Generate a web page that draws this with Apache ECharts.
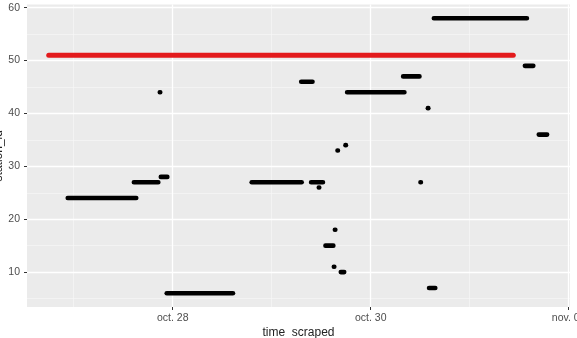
<!DOCTYPE html>
<html>
<head>
<meta charset="utf-8">
<script src="https://cdn.jsdelivr.net/npm/echarts@6/dist/echarts.min.js"></script>
<style>
  html, body { margin: 0; padding: 0; background: #fff; }
  #chart { width: 577px; height: 338px; }
</style>
</head>
<body>
<div id="chart"></div>
<script>
// station scraped over time: one row per run of consecutive scrapes
let stationIds = [24, 27, 28, 44, 6, 27, 27, 26, 46, 44, 33, 34, 18, 15, 11, 10, 47, 41, 58, 49, 36, 27, 7];
let startTimes = [
  '2021-10-26 22:36', '2021-10-27 14:38', '2021-10-27 21:10', '2021-10-27 20:55',
  '2021-10-27 22:36', '2021-10-28 19:12', '2021-10-29 09:36', '2021-10-29 11:28',
  '2021-10-29 07:12', '2021-10-29 18:20', '2021-10-29 16:00', '2021-10-29 17:56',
  '2021-10-29 15:22', '2021-10-29 13:05', '2021-10-29 15:07', '2021-10-29 16:48',
  '2021-10-30 07:55', '2021-10-30 13:55', '2021-10-30 15:22', '2021-10-31 13:26',
  '2021-10-31 16:48', '2021-10-30 12:07', '2021-10-30 14:12'
];
let endTimes = [
  '2021-10-27 15:06', '2021-10-27 20:27', '2021-10-27 22:38', '2021-10-27 20:55',
  '2021-10-28 14:33', '2021-10-29 07:12', '2021-10-29 12:22', '2021-10-29 11:28',
  '2021-10-29 09:50', '2021-10-30 08:07', '2021-10-29 16:00', '2021-10-29 17:56',
  '2021-10-29 15:22', '2021-10-29 14:53', '2021-10-29 15:07', '2021-10-29 17:31',
  '2021-10-30 11:46', '2021-10-30 13:55', '2021-10-31 13:49', '2021-10-31 15:22',
  '2021-10-31 18:43', '2021-10-30 12:07', '2021-10-30 15:36'
];

// highlighted station (red)
let redIds = [51];
let redStarts = ['2021-10-26 18:00'];
let redEnds = ['2021-10-31 10:30'];

// axes
let xTickDates = ['2021-10-28', '2021-10-30', '2021-11-01'];
let xTickLabels = ['oct. 28', 'oct. 30', 'nov. 01'];
let xMinorDates = ['2021-10-27', '2021-10-29', '2021-10-31'];
let yTicks = [10, 20, 30, 40, 50, 60];
let yMinorTicks = [5, 15, 25, 35, 45, 55];

function t(s) {
  return +new Date(s.length > 10 ? s.replace(' ', 'T') : s + 'T00:00');
}

function rows(ids, starts, ends) {
  return ids.map((id, i) => [t(starts[i]), t(ends[i]), id]);
}

function segRenderer(h) {
  return function (params, api) {
    let p1 = api.coord([api.value(0), api.value(2)]);
    let p2 = api.coord([api.value(1), api.value(2)]);
    let pad = h * 0.55;
    return {
      type: 'rect',
      shape: { x: p1[0] - pad, y: p1[1] - h / 2, width: p2[0] - p1[0] + pad * 2, height: h, r: h / 2 },
      style: api.style()
    };
  };
}

let xMin = t('2021-10-26 12:40');
let xMax = t('2021-11-01 00:19');
let xMajor = xTickDates.map(t);
let xMinor = xMinorDates.map(t);
let tickColor = '#333';
let labelColor = '#4d4d4d';
let font = 'Liberation Sans';

let chart = echarts.init(document.getElementById('chart'), null, { renderer: 'canvas' });
chart.setOption({
  animation: false,
  backgroundColor: '#fff',
  grid: {
    left: 27, right: 7, top: 4.5, bottom: 31,
    containLabel: false,
    outerBoundsMode: 'none',
    show: true, backgroundColor: '#ebebeb', borderWidth: 0
  },
  xAxis: [{
    type: 'value',
    min: xMin, max: xMax,
    name: 'time_scraped',
    nameLocation: 'middle',
    nameGap: 20,
    nameMoveOverlap: false,
    nameTextStyle: { fontFamily: font, fontSize: 12, color: '#222' },
    axisLine: { show: false },
    axisTick: { show: true, length: 3, lineStyle: { color: tickColor }, customValues: xMajor },
    axisLabel: {
      customValues: xMajor,
      fontFamily: font, fontSize: 10.5, color: labelColor, margin: 6,
      formatter: v => xTickLabels[xMajor.indexOf(v)] || ''
    },
    splitLine: { show: true, lineStyle: { color: '#fff', width: 1.3 } },
    z: 2
  }, {
    type: 'value',
    min: xMin, max: xMax,
    position: 'bottom',
    axisLine: { show: false },
    axisTick: { show: false, customValues: xMinor },
    axisLabel: { show: false, customValues: xMinor },
    splitLine: { show: true, lineStyle: { color: '#f7f7f7', width: 0.7 } }
  }],
  yAxis: [{
    type: 'value',
    min: 3.4, max: 60.6,
    name: 'station_id',
    nameLocation: 'middle',
    nameRotate: 90,
    nameGap: 22,
    nameMoveOverlap: false,
    nameTextStyle: { fontFamily: font, fontSize: 12, color: '#222' },
    axisLine: { show: false },
    axisTick: { show: true, length: 3, lineStyle: { color: tickColor }, customValues: yTicks },
    axisLabel: { customValues: yTicks, fontFamily: font, fontSize: 10.5, color: labelColor, margin: 7 },
    splitLine: { show: true, lineStyle: { color: '#fff', width: 1.3 } },
    z: 2
  }, {
    type: 'value',
    min: 3.4, max: 60.6,
    axisLine: { show: false },
    axisTick: { show: false, customValues: yMinorTicks },
    axisLabel: { show: false, customValues: yMinorTicks },
    splitLine: { show: true, lineStyle: { color: '#f7f7f7', width: 0.7 } }
  }],
  series: [{
    type: 'custom',
    renderItem: segRenderer(5),
    encode: { x: [0, 1], y: 2 },
    itemStyle: { color: '#e31a1c' },
    data: rows(redIds, redStarts, redEnds),
    z: 3
  }, {
    type: 'custom',
    renderItem: segRenderer(4.6),
    encode: { x: [0, 1], y: 2 },
    itemStyle: { color: '#000' },
    data: rows(stationIds, startTimes, endTimes),
    z: 4
  }]
});
</script>
</body>
</html>
